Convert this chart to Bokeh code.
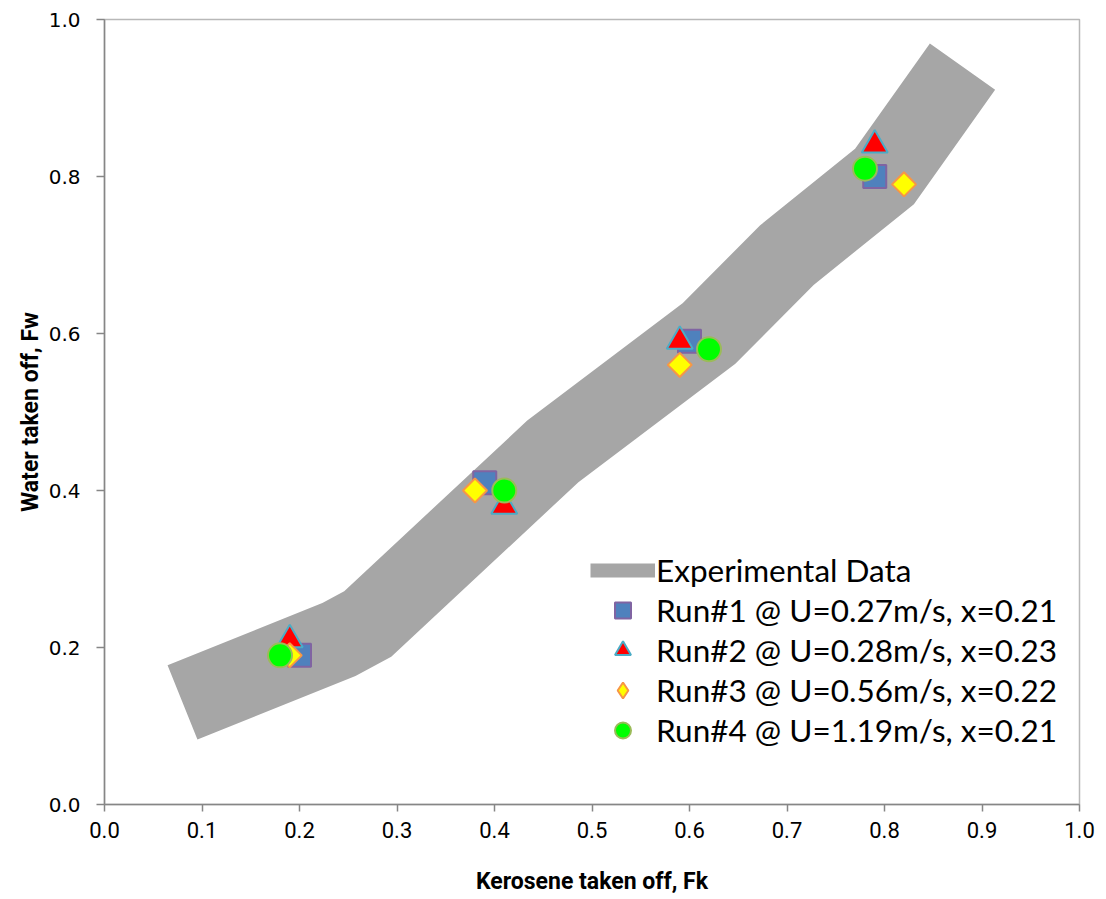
import math
from bokeh.plotting import figure
from bokeh.models import Range1d, FixedTicker, PrintfTickFormatter, Legend, LegendItem
from bokeh.embed import file_html
from bokeh.resources import INLINE

# Experimental band (centre line of the thick grey band)
band_x = [0.08, 0.24, 0.27, 0.46, 0.62, 0.70, 0.80, 0.88]
band_y = [0.13, 0.21, 0.23, 0.45, 0.60, 0.70, 0.80, 0.94]

run1_x = [0.20, 0.39, 0.60, 0.79]
run1_y = [0.19, 0.41, 0.59, 0.80]
run2_x = [0.19, 0.41, 0.59, 0.79]
run2_y = [0.21, 0.38, 0.59, 0.84]
run3_x = [0.19, 0.38, 0.59, 0.82]
run3_y = [0.19, 0.40, 0.56, 0.79]
run4_x = [0.18, 0.41, 0.62, 0.78]
run4_y = [0.19, 0.40, 0.58, 0.81]

labels = [
    "Experimental Data",
    "Run#1 @ U=0.27m/s, x=0.21",
    "Run#2 @ U=0.28m/s, x=0.23",
    "Run#3 @ U=0.56m/s, x=0.22",
    "Run#4 @ U=1.19m/s, x=0.21",
]
x_ticks = [i / 10 for i in range(11)]
y_ticks = [i / 5 for i in range(6)]

NAN = float("nan")

p = figure(width=1100, height=897, output_backend="svg", toolbar_location=None,
           x_range=Range1d(0, 1), y_range=Range1d(0, 1),
           min_border_left=104, min_border_right=21, min_border_top=19, min_border_bottom=91)
p.xgrid.visible = False
p.ygrid.visible = False
p.outline_line_color = "#B8B8B8"
p.outline_line_width = 1.5

TITLE_FONT = "Roboto"
for ax in (p.xaxis[0], p.yaxis[0]):
    ax.axis_line_color = "#868686"
    ax.axis_line_width = 1.5
    ax.major_tick_line_color = "#868686"
    ax.major_tick_line_width = 1.5
    ax.major_tick_in = 0
    ax.minor_tick_line_color = None
    ax.formatter = PrintfTickFormatter(format="%.1f")
    ax.major_label_text_color = "black"
    ax.axis_label_text_color = "black"
    ax.axis_label_text_font = TITLE_FONT
    ax.axis_label_text_font_style = "bold"
    ax.axis_label_text_font_size = "23px"

p.xaxis[0].ticker = FixedTicker(ticks=x_ticks)
p.yaxis[0].ticker = FixedTicker(ticks=y_ticks)
p.xaxis[0].major_tick_out = 7
p.yaxis[0].major_tick_out = 8
p.xaxis[0].major_label_text_font = "Roboto"
p.xaxis[0].major_label_text_font_size = "22px"
p.xaxis[0].major_label_standoff = 10
p.yaxis[0].major_label_text_font = "DejaVu Sans"
p.yaxis[0].major_label_text_font_size = "20px"
p.yaxis[0].major_label_standoff = 16
p.xaxis[0].axis_label = "Kerosene taken off, Fk"
p.yaxis[0].axis_label = "Water taken off, Fw"
p.xaxis[0].axis_label_standoff = 27
p.yaxis[0].axis_label_standoff = 2

band = p.line(band_x, band_y, line_color="#A6A6A6", line_width=80,
              line_join="miter", line_cap="butt")
band_leg = p.line(x=[NAN], y=[NAN], line_color="#A6A6A6", line_width=14, line_cap="butt")

r1 = p.scatter(run1_x, run1_y, marker="square", size=23, fill_color="#4F81BD",
               line_color="#8064A2", line_width=2)
r2 = p.scatter(run2_x, run2_y, marker="triangle", size=26, fill_color="#FF0000",
               line_color="#4BACC6", line_width=2)
r3 = p.scatter(run3_x, run3_y, marker="square", angle=math.pi / 4, size=17,
               fill_color="#FFFF00", line_color="#F79646", line_width=2)
r3_leg = p.scatter(x=[NAN], y=[NAN], marker="diamond", fill_color="#FFFF00",
                   line_color="#F79646", line_width=2)
r4 = p.scatter(run4_x, run4_y, marker="circle", size=24, fill_color="#00FF00",
               line_color="#9BBB59", line_width=2)

legend = Legend(items=[
    LegendItem(label=labels[0], renderers=[band_leg]),
    LegendItem(label=labels[1], renderers=[r1]),
    LegendItem(label=labels[2], renderers=[r2]),
    LegendItem(label=labels[3], renderers=[r3_leg]),
    LegendItem(label=labels[4], renderers=[r4]),
], location=(486, 54))
legend.padding = 0
legend.margin = 0
legend.glyph_width = 65
legend.glyph_height = 40
legend.spacing = 0
legend.label_standoff = 1
legend.label_text_font = "Lato"
legend.label_text_font_size = "31.5px"
legend.label_text_color = "black"
legend.background_fill_alpha = 0
legend.border_line_color = None
p.add_layout(legend, "center")

open("out.html", "w").write(file_html(p, INLINE))
